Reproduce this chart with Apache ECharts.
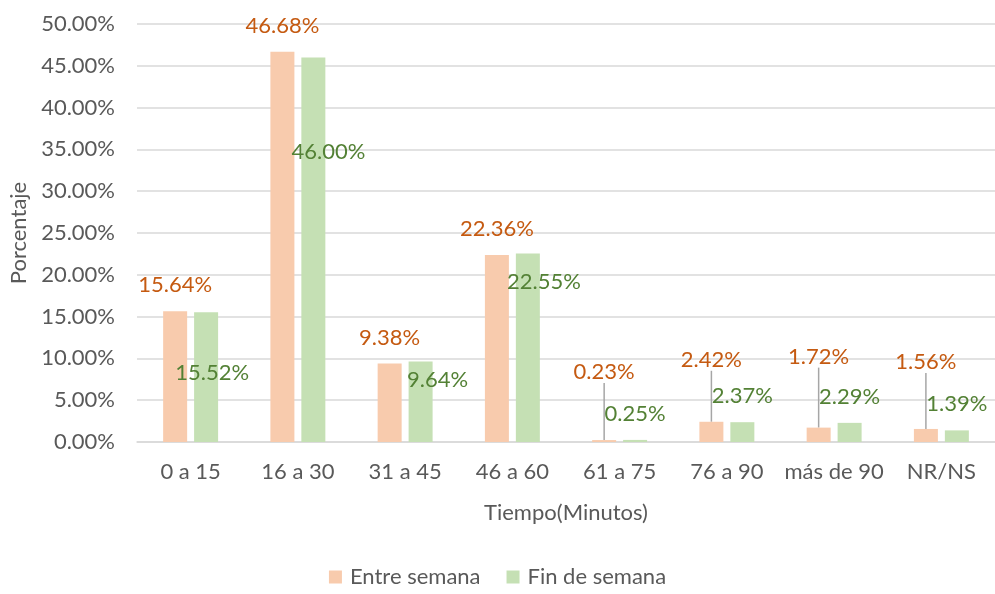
<!DOCTYPE html>
<html>
<head>
<meta charset="utf-8">
<script src="https://cdn.jsdelivr.net/npm/echarts@6/dist/echarts.min.js"></script>
<style>
  html, body { margin: 0; padding: 0; background: #fff; }
  #main { width: 995px; height: 594px; }
</style>
</head>
<body>
<div id="main"></div>
<script>
// datos
var categorias = ['0 a 15', '16 a 30', '31 a 45', '46 a 60', '61 a 75', '76 a 90', 'más de 90', 'NR/NS'];
var entreSemana = [15.64, 46.68, 9.38, 22.36, 0.23, 2.42, 1.72, 1.56];
var finDeSemana = [15.52, 46.00, 9.64, 22.55, 0.25, 2.37, 2.29, 1.39];
var nombresSeries = ['Entre semana', 'Fin de semana'];

// desplazamiento de etiquetas (movidas a mano en el original)
var moverEntre = [null, null, null, null, [0, -42], [0, -36], [0, -45], [0, -41]];
var moverFin = [[6, 87], [15, 120], [17, 44], [16, 54], null, null, null, null];

var FONT = 'Lato';
var FS = 22;
var GRIS = '#595959';

var chart = echarts.init(document.getElementById('main'));

function pct(v) {
  return v.toFixed(2) + '%';
}

function layoutDe(arr) {
  return function (params) {
    var m = arr[params.dataIndex];
    if (!m) return {};
    return { dx: m[0], dy: m[1] };
  };
}

// la linea guia solo en las etiquetas movidas
function conLinea(valores, mover) {
  return valores.map(function (v, i) {
    return { value: v, labelLine: { show: !!mover[i] } };
  });
}

var option = {
  animation: false,
  textStyle: { fontFamily: FONT },
  grid: {
    left: 137,
    right: -5,
    top: 24,
    bottom: 152
  },
  legend: {
    bottom: 1,
    left: 'center',
    icon: 'rect',
    itemWidth: 13,
    itemHeight: 13,
    itemGap: 26,
    textStyle: { color: GRIS, fontSize: FS, fontFamily: FONT, padding: [0, 0, 0, 3] },
    data: nombresSeries
  },
  xAxis: {
    type: 'category',
    data: categorias,
    name: 'Tiempo(Minutos)',
    nameLocation: 'middle',
    nameGap: 60,
    nameTextStyle: { color: GRIS, fontSize: FS, fontFamily: FONT },
    axisLine: { lineStyle: { color: '#d9d9d9', width: 1.5 } },
    axisTick: { show: false },
    axisLabel: { color: GRIS, fontSize: FS, margin: 19, interval: 0, fontFamily: FONT }
  },
  yAxis: {
    type: 'value',
    min: 0,
    max: 50,
    interval: 5,
    name: 'Porcentaje',
    nameLocation: 'middle',
    nameGap: 105,
    nameTextStyle: { color: GRIS, fontSize: FS, fontFamily: FONT },
    axisLine: { show: false },
    axisTick: { show: false },
    axisLabel: {
      color: GRIS, fontSize: FS, margin: 22, fontFamily: FONT,
      formatter: function (v) { return pct(v); }
    },
    splitLine: { lineStyle: { color: '#d9d9d9', width: 1.5 } }
  },
  series: [{
    name: nombresSeries[0],
    type: 'bar',
    data: conLinea(entreSemana, moverEntre),
    barWidth: 24,
    barGap: '29%',
    itemStyle: { color: '#F8CBAD' },
    label: {
      show: true,
      position: 'top',
      distance: 15,
      color: '#C55A11',
      fontSize: FS,
      fontFamily: FONT,
      formatter: function (p) { return pct(p.value); }
    },
    labelLine: { show: true, lineStyle: { color: '#a6a6a6', width: 1.5 } },
    labelLayout: layoutDe(moverEntre)
  }, {
    name: nombresSeries[1],
    type: 'bar',
    data: finDeSemana,
    barWidth: 24,
    itemStyle: { color: '#C5E0B4' },
    label: {
      show: true,
      position: 'top',
      distance: 15,
      color: '#538135',
      fontSize: FS,
      fontFamily: FONT,
      formatter: function (p) { return pct(p.value); }
    },
    labelLayout: layoutDe(moverFin)
  }]
};

chart.setOption(option);
</script>
</body>
</html>
